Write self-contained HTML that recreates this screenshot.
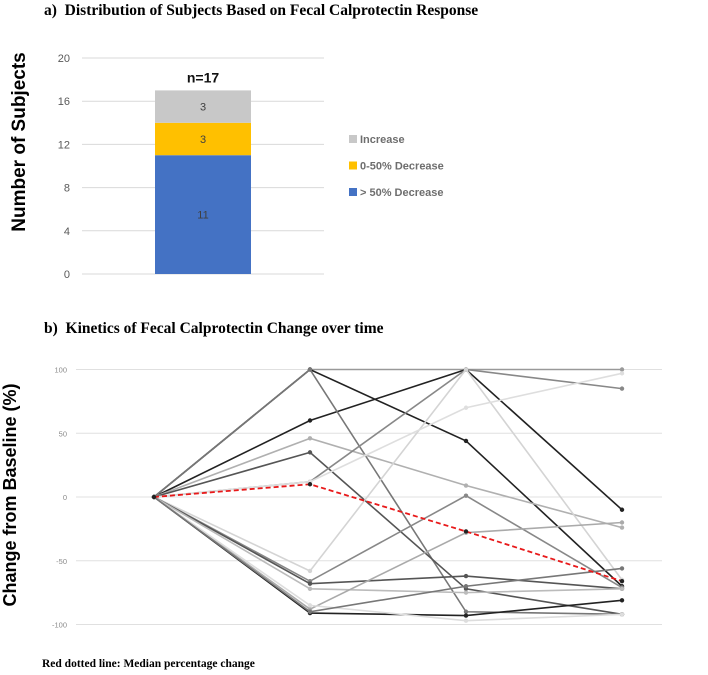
<!DOCTYPE html>
<html><head><meta charset="utf-8"><style>
body{margin:0;background:#fff;width:708px;height:675px;overflow:hidden}
svg{display:block}
.serif{font-family:"Liberation Serif",serif;font-weight:bold}
.sans{font-family:"Liberation Sans",sans-serif}
</style></head><body>
<svg id="svg" width="708" height="675">
<text class="serif" x="44" y="15" font-size="15.5">a)&#160;&#160;Distribution of Subjects Based on Fecal Calprotectin Response</text>
<text class="serif" x="44" y="333" font-size="15.5">b)&#160;&#160;Kinetics of Fecal Calprotectin Change over time</text>
<text class="sans" x="25" y="142" font-size="19" font-weight="bold" text-anchor="middle" transform="rotate(-90 25 142)">Number of Subjects</text>
<text class="sans" x="16" y="495" font-size="18" font-weight="bold" text-anchor="middle" transform="rotate(-90 16 495)">Change from Baseline (%)</text>
<text class="serif" x="42" y="667" font-size="11.5">Red dotted line: Median percentage change</text>
<g id="ga"></g><g id="gb"></g>
</svg>
<script>
const NS="http://www.w3.org/2000/svg";
function mk(p,t,a){const e=document.createElementNS(NS,t);for(const k in a)e.setAttribute(k,a[k]);p.appendChild(e);return e;}
// Panel a data
const aTicks=[0,4,8,12,16,20];
const aCats=["> 50% Decrease","0-50% Decrease","Increase"];
const aVals=[11,3,3];
const aColors=["#4472c4","#ffc000","#c8c8c8"];
const ga=document.getElementById('ga');
const ay=v=>274-v*10.8;
aTicks.forEach(t=>{
  const l=mk(ga,'line',{x1:82,x2:324,y1:ay(t),y2:ay(t),stroke:'#d9d9d9','stroke-width':1});
  
  
  const tx=mk(ga,'text',{x:70,y:ay(t)+4,'font-size':11,fill:'#595959','text-anchor':'end','class':'sans'});tx.textContent=t;
  
  
});
let cum=0;
aVals.forEach((v,i)=>{
  const r=mk(ga,'rect',{x:155,width:96,y:ay(cum+v),height:v*10.8,fill:aColors[i]});
  
  
  const t=mk(ga,'text',{x:203,y:ay(cum+v/2)+4,'font-size':11,fill:'#404040','text-anchor':'middle','class':'sans'});t.textContent=v;
  
  
  cum+=v;
});
const tot=mk(ga,'text',{x:203,y:ay(cum)-8,'font-size':14,'font-weight':'bold',fill:'#111','text-anchor':'middle','class':'sans'});tot.textContent='n='+cum;


[2,1,0].forEach((i,k)=>{
  const g=mk(ga,'g',{});
  
  
  mk(g,'rect',{x:349,y:135+k*26.5,width:8,height:8,fill:aColors[i]});
  const t=mk(g,'text',{x:360,y:143+k*26.5,'font-size':11,'font-weight':'bold',fill:'#6e6e6e','class':'sans'});t.textContent=aCats[i];
});
// Panel b data
const bTimes=[0,1,2,3];
const bTicks=[100,50,0,-50,-100];
const s01=[0,100,100,100];
const s02=[0,100,44,-70];
const s03=[0,60,100,-10];
const s04=[0,100,-90,-92];
const s05=[0,46,9,-24];
const s06=[0,35,-72,-92];
const s07=[0,12,100,85];
const s08=[0,-58,100,-65];
const s09=[0,12,70,97];
const s10=[0,-66,1,-71];
const s11=[0,-68,-62,-72];
const s12=[0,-72,-75,-72];
const s13=[0,-88,-28,-20];
const s14=[0,-91,-93,-81];
const s15=[0,-85,-97,-92];
const s16=[0,-90,-70,-56];
const median=[0,10,-27,-66];
const series=[s01,s02,s03,s04,s05,s06,s07,s08,s09,s10,s11,s12,s13,s14,s15,s16];
const sColors=["#999","#222","#222","#777","#b0b0b0","#555","#888","#d4d4d4","#dedede","#888","#555","#bbb","#aaa","#222","#ddd","#777"];
const gb=document.getElementById('gb');
const bx=t=>154+t*156, by=v=>497-v*1.275;
bTicks.forEach(t=>{
  const l=mk(gb,'line',{x1:76,x2:662,y1:by(t),y2:by(t),stroke:'#e0e0e0','stroke-width':1});
  
  
  const tx=mk(gb,'text',{x:67,y:by(t)+3,'font-size':7.5,fill:'#8a8a8a','text-anchor':'end','class':'sans'});tx.textContent=t;
  
  
});
function drawLine(d,c,w,dash,name){
  const g=mk(gb,'g',{});
  
  
  const a={points:d.map((v,i)=>bx(bTimes[i])+','+by(v)).join(' '),fill:'none',stroke:c,'stroke-width':w};
  if(dash)a['stroke-dasharray']=dash;
  mk(g,'polyline',a);
  d.forEach((v,i)=>mk(g,'circle',{cx:bx(bTimes[i]),cy:by(v),r:2.2,fill:dash?'#222':c}));
}
series.forEach((s,i)=>drawLine(s,sColors[i],1.6,null,'subject-line'));
drawLine(median,'#e8191a',1.8,'5,3','median-line');
</script>
</body></html>
